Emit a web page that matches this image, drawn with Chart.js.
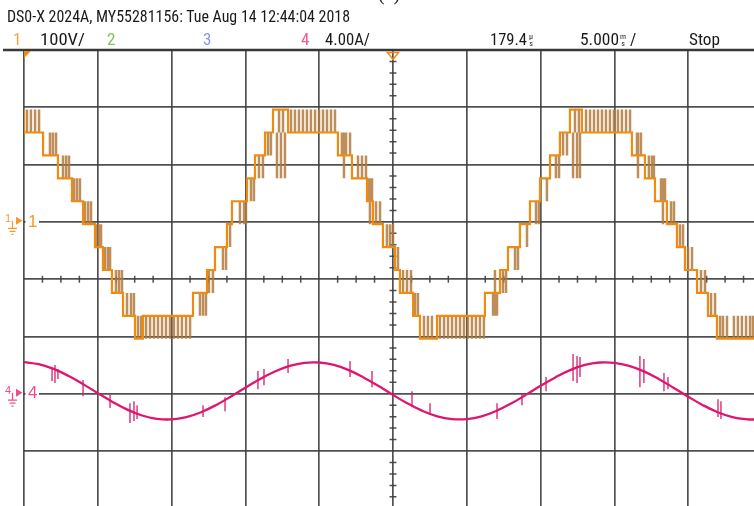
<!DOCTYPE html>
<html>
<head>
<meta charset="utf-8">
<script src="https://cdn.jsdelivr.net/npm/chart.js"></script>
<style>
    html, body { margin: 0; padding: 0; background: #fff; overflow: hidden; }
    #wrap { position: relative; width: 754px; height: 506px; overflow: hidden; }
    #scope { position: absolute; left: 0; top: 0; }
    .lbl {
        position: absolute;
        white-space: nowrap;
        font-family: "Liberation Sans Narrow", "Roboto Condensed", "Liberation Sans", Arial, sans-serif;
        font-size: 17px;
        line-height: 17px;
        color: #1a1a1a;
        transform-origin: 0 0;
    }
    .stack { font-size: 8px; line-height: 7px; text-align: center; }
</style>
</head>
<body>
<div id="wrap">
    <canvas id="scope" width="754" height="506"></canvas>
    <div class="lbl" style="left:378px;top:-17px;font-family:'Liberation Serif',serif;font-size:20px;line-height:20px;">(a)</div>
    <div class="lbl" data-w="343" style="left:7px;top:8px;">DS0-X 2024A, MY55281156: Tue Aug 14 12:44:04 2018</div>
    <div class="lbl" style="left:13px;top:31px;color:#f5a04a;">1</div>
    <div class="lbl" data-w="45" style="left:40px;top:31px;">100V/</div>
    <div class="lbl" style="left:107px;top:31px;color:#7cc35c;">2</div>
    <div class="lbl" style="left:203px;top:31px;color:#8d94d6;">3</div>
    <div class="lbl" style="left:301px;top:31px;color:#ee5a92;">4</div>
    <div class="lbl" data-w="45" style="left:325px;top:31px;">4.00A/</div>
    <div class="lbl" data-w="37" style="left:490px;top:31px;">179.4</div>
    <div class="lbl stack" style="left:529px;top:33px;">µ<br>s</div>
    <div class="lbl" data-w="39" style="left:580px;top:31px;">5.000</div>
    <div class="lbl stack" style="left:620px;top:33px;">m<br>s</div>
    <div class="lbl" style="left:630px;top:31px;">/</div>
    <div class="lbl" data-w="31" style="left:689px;top:31px;">Stop</div>
</div>
<script>
// ---- channel 1: multilevel inverter voltage (V), step edges
const stepTimes = [0, 1.29, 2.30, 3.25, 4.00, 4.81, 5.35, 5.96, 6.71, 7.52, 8.06,
    11.45, 12.40, 12.94, 13.75, 14.09, 15.11, 15.65, 16.33, 16.87, 17.89,
    21.27, 22.22, 23.24, 23.64, 24.32, 25.14, 25.47, 26.36, 26.83, 27.98,
    31.23, 32.25, 32.79, 33.60, 34.28, 34.96, 35.64, 36.31, 36.99, 37.80,
    41.19, 42.07, 42.75, 43.56, 44.24, 44.78, 45.60, 46.34, 46.95, 47.83, 49.46];
const stepVolts = [200, 160, 120, 80, 40, 0, -40, -80, -120, -160, -200,
    -160, -120, -80, -40, 0, 40, 80, 120, 160, 200,
    160, 120, 80, 40, 0, -40, -80, -120, -160, -200,
    -160, -120, -80, -40, 0, 40, 80, 120, 160, 200,
    160, 120, 80, 40, 0, -40, -80, -120, -160, -200, -200];

// PWM chatter between levels: [time ms, low V, high V]
const pulses = [
    [0.20, 160, 200], [0.47, 160, 200], [0.75, 160, 200], [1.02, 160, 200],
    [1.76, 120, 160], [1.96, 120, 160], [2.17, 120, 160],
    [2.64, 80, 120], [2.85, 80, 120], [3.05, 80, 120],
    [3.39, 40, 80], [3.59, 40, 80], [3.79, 40, 80],
    [4.13, 0, 40], [4.34, 0, 40], [4.54, 0, 40],
    [4.88, -40, 0], [5.08, -40, 0], [5.22, -40, 0],
    [5.49, -80, -40], [5.69, -80, -40], [5.83, -80, -40],
    [6.23, -120, -80], [6.44, -120, -80], [6.64, -120, -80],
    [6.98, -160, -120], [7.25, -160, -120], [7.45, -160, -120],
    [7.72, -200, -160], [7.93, -200, -160],
    [8.27, -200, -160], [8.54, -200, -160], [8.81, -200, -160], [9.08, -200, -160],
    [9.35, -200, -160], [9.62, -200, -160], [9.89, -200, -160], [10.16, -200, -160],
    [10.43, -200, -160], [10.70, -200, -160], [10.98, -200, -160], [11.25, -200, -160],
    [11.92, -160, -120], [12.13, -160, -120], [12.33, -160, -120],
    [12.53, -120, -80], [12.80, -120, -80],
    [13.48, -80, -40], [13.69, -80, -40],
    [13.96, -40, 0],
    [14.63, 0, 40], [14.91, 0, 40], [15.04, 0, 40],
    [15.38, 40, 80], [15.58, 40, 80],
    [15.92, 80, 120], [16.19, 80, 120],
    [16.53, 120, 160], [16.73, 120, 160],
    [17.14, 80, 160], [17.41, 80, 160], [17.68, 80, 160], [17.28, 160, 200], [17.55, 160, 200],
    [18.09, 160, 200], [18.36, 160, 200], [18.63, 160, 200], [18.90, 160, 200],
    [19.17, 160, 200], [19.44, 160, 200], [19.72, 160, 200], [19.99, 160, 200],
    [20.26, 160, 200], [20.53, 160, 200], [20.80, 160, 200], [21.07, 160, 200],
    [21.54, 120, 160], [21.82, 120, 160], [22.09, 120, 160], [21.68, 80, 160],
    [22.63, 80, 120], [22.90, 80, 120], [23.17, 80, 120],
    [23.37, 40, 80], [23.58, 40, 80], [23.44, 0, 80],
    [23.85, 0, 40], [24.12, 0, 40],
    [24.59, -40, 0], [24.80, -40, 0], [25.00, -40, 0],
    [25.34, -80, -40],
    [25.68, -120, -80], [25.95, -120, -80], [26.22, -120, -80],
    [26.49, -160, -120], [26.69, -160, -120],
    [27.10, -200, -160], [27.37, -200, -160], [27.64, -200, -160],
    [28.18, -200, -160], [28.46, -200, -160], [28.73, -200, -160], [29.00, -200, -160],
    [29.27, -200, -160], [29.54, -200, -160], [29.81, -200, -160], [30.08, -200, -160],
    [30.35, -200, -160], [30.62, -200, -160], [30.89, -200, -160], [31.16, -200, -160],
    [31.78, -160, -120], [32.05, -160, -120], [31.91, -160, -80],
    [32.45, -120, -80], [32.66, -120, -80],
    [33.27, -80, -40], [33.47, -80, -40],
    [34.08, -40, 0],
    [34.69, 0, 40], [34.89, 0, 40],
    [35.43, 40, 80],
    [36.04, 80, 120], [36.25, 80, 120],
    [36.52, 120, 160], [36.79, 120, 160],
    [37.20, 80, 160], [37.47, 80, 160], [37.67, 80, 160], [37.33, 160, 200], [37.60, 160, 200],
    [38.08, 160, 200], [38.35, 160, 200], [38.62, 160, 200], [38.89, 160, 200],
    [39.16, 160, 200], [39.43, 160, 200], [39.70, 160, 200], [39.97, 160, 200],
    [40.24, 160, 200], [40.51, 160, 200], [40.79, 160, 200], [41.06, 160, 200],
    [41.53, 120, 160], [41.80, 120, 160], [41.60, 80, 160],
    [42.34, 80, 120], [42.55, 80, 120], [42.68, 80, 120],
    [43.16, 40, 80], [43.43, 40, 80], [43.29, 0, 80],
    [43.84, 0, 40], [44.04, 0, 40],
    [44.44, -40, 0], [44.65, -40, 0],
    [44.99, -80, -40], [45.26, -80, -40],
    [45.87, -120, -80], [46.14, -120, -80],
    [46.55, -160, -120], [46.82, -160, -120],
    [47.16, -200, -160], [47.36, -200, -160], [47.63, -200, -160],
    [48.10, -200, -160], [48.37, -200, -160], [48.64, -200, -160],
    [48.92, -200, -160], [49.19, -200, -160], [49.39, -200, -160]
];

// ---- channel 4: output current (A)
const ampTimes = [0, 1, 2, 3, 4, 5, 6, 7, 8, 9, 10, 11, 12, 13, 14, 15, 16, 17, 18, 19,
    20, 21, 22, 23, 24, 25, 26, 27, 28, 29, 30, 31, 32, 33, 34, 35, 36, 37, 38, 39,
    40, 41, 42, 43, 44, 45, 46, 47, 48, 49, 49.5];
const ampValues = [2.20, 2.06, 1.73, 1.25, 0.67, 0.04, -0.57, -1.11, -1.52, -1.75,
    -1.79, -1.63, -1.29, -0.80, -0.21, 0.42, 1.03, 1.55, 1.94, 2.16,
    2.18, 2.01, 1.65, 1.14, 0.55, -0.08, -0.69, -1.20, -1.58, -1.77,
    -1.77, -1.58, -1.20, -0.69, -0.08, 0.55, 1.14, 1.65, 2.01, 2.18,
    2.16, 1.95, 1.56, 1.03, 0.42, -0.21, -0.80, -1.29, -1.63, -1.79, -1.80];

// switching spikes on the current: [time ms, low A, high A]
const spikes = [
    [1.90, 0.88, 1.86], [2.10, 0.74, 2.00], [2.30, 1.02, 1.72],
    [4.00, -0.17, 0.95], [5.83, -1.00, -0.03],
    [7.18, -2.05, -0.66], [7.45, -1.91, -0.52], [7.66, -1.77, -0.80],
    [12.13, -1.63, -0.80], [13.62, -1.22, -0.24],
    [15.85, 0.32, 1.58], [16.26, 0.60, 1.72], [17.89, 1.44, 2.42],
    [22.09, 1.16, 2.28], [23.58, 0.46, 1.58],
    [26.29, -0.94, 0.18], [27.51, -1.35, -0.66],
    [32.05, -1.77, -0.66], [33.74, -0.80, 0.04], [35.37, 0.18, 1.16],
    [37.20, 0.88, 2.77], [37.47, 0.74, 2.63], [37.67, 1.16, 2.56],
    [41.73, 0.46, 2.63], [42.00, 0.74, 2.42],
    [43.36, 0.18, 1.44], [43.63, 0.32, 1.16],
    [47.02, -1.63, -0.38], [47.22, -1.77, -0.52]
];

// graticule: 5 ms/div, divisions on y
const xGrid = [0, 5, 10, 15, 20, 25, 30, 35, 40, 45];
const yGrid = [-3, -2, -1, 0, 1, 2, 3, 4];

const voltsPerDiv = 100;
const ampsPerDiv = 4;
const ch1Offset = 0.96;
const ch4Offset = -2;
const ch1Ground = 1;
const ch4Ground = -2;
const timeCenter = 25;

const ch1Color = '#ef8c10';
const ch4Color = '#df1670';
const gridColor = 'rgba(62, 62, 62, 0.9)';

const toDiv1 = v => ch1Offset + v / voltsPerDiv;
const toDiv4 = a => ch4Offset + a / ampsPerDiv;

const stepData = stepTimes.map((t, i) => ({ x: t, y: toDiv1(stepVolts[i]) }));
const ampData = ampTimes.map((t, i) => ({ x: t, y: toDiv4(ampValues[i]) }));

const pulseData = [];
pulses.forEach(([t, lo, hi]) => {
    pulseData.push({ x: t, y: toDiv1(lo) }, { x: t, y: toDiv1(hi) }, { x: t, y: null });
});
const spikeData = [];
spikes.forEach(([t, lo, hi]) => {
    spikeData.push({ x: t, y: toDiv4(lo) }, { x: t, y: toDiv4(hi) }, { x: t, y: null });
});

function groundMarker(ctx, py, color, label) {
    ctx.fillStyle = color;
    ctx.strokeStyle = color;
    ctx.lineWidth = 1.2;
    ctx.textBaseline = 'middle';
    ctx.font = '11px "Liberation Sans", Arial, sans-serif';
    ctx.fillText(label, 5, py - 3);
    ctx.beginPath();
    ctx.moveTo(16, py - 5);
    ctx.lineTo(16, py + 3);
    ctx.lineTo(22.5, py - 1);
    ctx.closePath();
    ctx.fill();
    ctx.beginPath();
    ctx.moveTo(12.5, py - 1); ctx.lineTo(12.5, py + 6);
    ctx.moveTo(8, py + 6.5); ctx.lineTo(17, py + 6.5);
    ctx.moveTo(9.5, py + 9.5); ctx.lineTo(15.5, py + 9.5);
    ctx.moveTo(11.5, py + 12.5); ctx.lineTo(13.5, py + 12.5);
    ctx.stroke();
    ctx.font = '17px "Liberation Sans Narrow", "Liberation Sans", Arial, sans-serif';
    ctx.fillText(label, 28, py);
}

const graticule = {
    id: 'graticule',
    beforeDatasetsDraw(chart) {
        const { ctx, chartArea: a, scales: { x, y } } = chart;
        const cy = y.getPixelForValue(0);
        const cx = x.getPixelForValue(timeCenter);
        ctx.save();
        ctx.strokeStyle = gridColor;
        ctx.lineWidth = 1.5;
        ctx.beginPath();
        for (let k = 1; k * 1.25 < x.max; k++) {
            if (k % 4 === 0) continue;
            const px = x.getPixelForValue(k * 1.25);
            ctx.moveTo(px, cy - 3.5);
            ctx.lineTo(px, cy + 3.5);
        }
        for (let k = -19; k < 20; k++) {
            if (k % 5 === 0) continue;
            const py = y.getPixelForValue(k / 5);
            ctx.moveTo(cx - 3.5, py);
            ctx.lineTo(cx + 3.5, py);
        }
        ctx.stroke();

        // bezel line along the top
        ctx.strokeStyle = '#383838';
        ctx.lineWidth = 2.6;
        ctx.beginPath();
        ctx.moveTo(3, a.top);
        ctx.lineTo(a.right, a.top);
        ctx.stroke();

        // gap in the grid where the channel numbers sit
        ctx.fillStyle = '#fff';
        [ch1Ground, ch4Ground].forEach(g => {
            const py = y.getPixelForValue(g);
            ctx.fillRect(a.left + 1.5, py - 4, 13.5, 8);
        });
        ctx.restore();
    },
    afterDraw(chart) {
        const { ctx, chartArea: a, scales: { x, y } } = chart;
        ctx.save();
        groundMarker(ctx, y.getPixelForValue(ch1Ground), '#f39a2c', '1');
        groundMarker(ctx, y.getPixelForValue(ch4Ground), '#ee4d8c', '4');

        // time reference and trigger markers
        ctx.fillStyle = '#f08a10';
        ctx.beginPath();
        ctx.moveTo(a.left, a.top + 1);
        ctx.lineTo(a.left + 7, a.top + 1);
        ctx.lineTo(a.left, a.top + 8);
        ctx.closePath();
        ctx.fill();

        const cx = x.getPixelForValue(timeCenter);
        ctx.strokeStyle = '#f08a10';
        ctx.lineWidth = 1.5;
        ctx.beginPath();
        ctx.moveTo(cx - 5.5, a.top + 2.5);
        ctx.lineTo(cx + 5.5, a.top + 2.5);
        ctx.lineTo(cx, a.top + 9.5);
        ctx.closePath();
        ctx.stroke();
        ctx.restore();
    }
};

const noTicks = { display: false };

new Chart(document.getElementById('scope'), {
    type: 'line',
    data: {
        datasets: [
            {
                data: stepData,
                stepped: 'after',
                borderColor: ch1Color,
                borderWidth: 2.2,
                pointRadius: 0
            },
            {
                data: pulseData,
                borderColor: 'rgba(178, 122, 60, 0.85)',
                borderWidth: 2.5,
                pointRadius: 0,
                spanGaps: false
            },
            {
                data: ampData,
                borderColor: ch4Color,
                borderWidth: 2.3,
                tension: 0.4,
                pointRadius: 0
            },
            {
                data: spikeData,
                borderColor: 'rgba(210, 24, 104, 0.9)',
                borderWidth: 1.4,
                pointRadius: 0,
                spanGaps: false
            }
        ]
    },
    options: {
        responsive: false,
        animation: false,
        devicePixelRatio: 1,
        events: [],
        layout: { padding: { left: 24, top: 50, right: 0, bottom: 0 } },
        plugins: {
            legend: { display: false },
            tooltip: { enabled: false }
        },
        scales: {
            x: {
                type: 'linear',
                min: 0,
                max: 49.46,
                ticks: noTicks,
                border: { display: false },
                grid: { color: gridColor, lineWidth: 1.7, drawTicks: false },
                afterBuildTicks: s => { s.ticks = xGrid.map(v => ({ value: v })); },
                afterFit: s => { s.height = 0; }
            },
            y: {
                type: 'linear',
                min: -3.96,
                max: 4,
                ticks: noTicks,
                border: { display: false },
                grid: { color: gridColor, lineWidth: 1.7, drawTicks: false },
                afterBuildTicks: s => { s.ticks = yGrid.map(v => ({ value: v })); },
                afterFit: s => { s.width = 0; }
            }
        }
    },
    plugins: [graticule]
});

// squeeze header texts to the widths they have on the scope screen
function fitLabels() {
    document.querySelectorAll('.lbl[data-w]').forEach(el => {
        el.style.transform = 'none';
        const w = el.getBoundingClientRect().width;
        if (w > 0) el.style.transform = `scaleX(${parseFloat(el.dataset.w) / w})`;
    });
}
fitLabels();
if (document.fonts && document.fonts.ready) document.fonts.ready.then(fitLabels);
</script>
</body>
</html>
